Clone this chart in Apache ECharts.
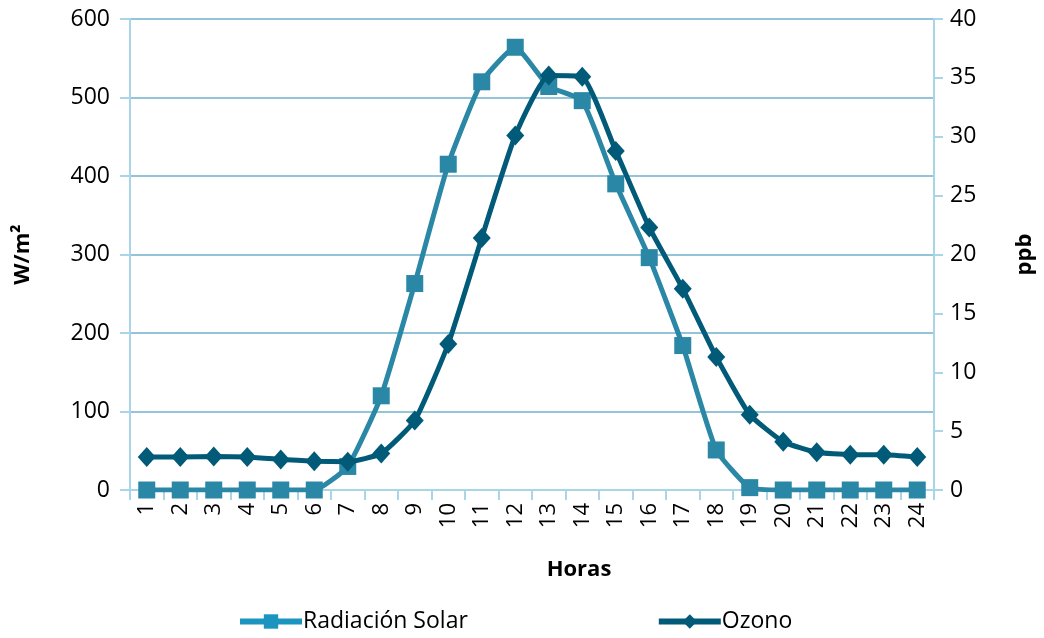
<!DOCTYPE html>
<html>
<head>
<meta charset="utf-8">
<script src="https://cdn.jsdelivr.net/npm/echarts@6/dist/echarts.min.js"></script>
<style>
  html, body { margin: 0; padding: 0; background: #ffffff; }
  #chart { width: 1044px; height: 638px; }
</style>
</head>
<body>
<div id="chart"></div>
<script>
// Hourly averages: solar radiation (W/m²) and ozone (ppb)
const horas = ['1','2','3','4','5','6','7','8','9','10','11','12','13','14','15','16','17','18','19','20','21','22','23','24'];
const radiacionSolar = [0, 0, 0, 0, 0, 0, 30, 120, 263, 415, 520, 564, 514, 496, 390, 296, 184, 51, 3, 0, 0, 0, 0, 0];
const ozono = [2.8, 2.8, 2.85, 2.8, 2.6, 2.45, 2.4, 3.1, 5.9, 12.4, 21.4, 30.1, 35.2, 35.1, 28.8, 22.3, 17.1, 11.3, 6.4, 4.1, 3.2, 3.0, 3.0, 2.8];
const ticksRad = { min: 0, max: 600, interval: 100 };
const ticksPpb = { min: 0, max: 40, interval: 5 };

const FONT = '"Open Sans", "Noto Sans", sans-serif';
const AXIS_BLUE = '#a9d5e9';
const GRID_BLUE = '#6fb0cb';
const C_RAD = '#2a87a6';
const C_RAD_KEY = '#1b95c0';
const C_OZ = '#005a78';

const chart = echarts.init(document.getElementById('chart'), null, { renderer: 'canvas' });

chart.setOption({
  animation: false,
  textStyle: { fontFamily: FONT, color: '#000' },
  grid: { left: 130, right: 108, top: 19, bottom: 148, containLabel: false },
  legend: {
    bottom: 0,
    left: 232,
    itemWidth: 62,
    itemHeight: 18,
    itemGap: 188,
    lineStyle: { width: 6 },
    textStyle: { fontFamily: FONT, fontSize: 23, color: '#000', padding: [0, 0, 0, -4] },
    data: [
      { name: 'Radiación Solar', itemStyle: { color: C_RAD_KEY }, lineStyle: { color: C_RAD_KEY, width: 6 } },
      { name: 'Ozono' }
    ]
  },
  xAxis: {
    type: 'category',
    data: horas,
    boundaryGap: true,
    name: 'Horas',
    nameLocation: 'middle',
    nameGap: 69,
    nameTextStyle: { fontFamily: FONT, fontSize: 22, fontWeight: 'bold', color: '#000', padding: [0, 0, 0, 94] },
    axisLine: { show: true, lineStyle: { color: AXIS_BLUE, width: 2 } },
    axisTick: { show: true, alignWithLabel: false, length: 10, lineStyle: { color: AXIS_BLUE, width: 2 } },
    axisLabel: { rotate: 90, fontSize: 22, color: '#000', margin: 13, fontFamily: FONT },
    splitLine: { show: false }
  },
  yAxis: [
    {
      type: 'value',
      position: 'left',
      min: ticksRad.min, max: ticksRad.max, interval: ticksRad.interval,
      name: 'W/m²',
      nameLocation: 'middle',
      nameGap: 96,
      nameRotate: 90,
      nameTextStyle: { fontFamily: FONT, fontSize: 22, fontWeight: 'bold', color: '#000' },
      axisLine: { show: true, lineStyle: { color: AXIS_BLUE, width: 2 } },
      axisTick: { show: true, length: 10, lineStyle: { color: AXIS_BLUE, width: 2 } },
      axisLabel: { fontSize: 23, color: '#000', margin: 20, fontFamily: FONT },
      splitLine: { show: true, lineStyle: { color: GRID_BLUE, width: 1.5 } }
    },
    {
      type: 'value',
      position: 'right',
      min: ticksPpb.min, max: ticksPpb.max, interval: ticksPpb.interval,
      name: 'ppb',
      nameLocation: 'middle',
      nameGap: 80,
      nameRotate: 90,
      nameTextStyle: { fontFamily: FONT, fontSize: 22, fontWeight: 'bold', color: '#000' },
      axisLine: { show: true, lineStyle: { color: AXIS_BLUE, width: 2 } },
      axisTick: { show: true, length: 9, lineStyle: { color: AXIS_BLUE, width: 2 } },
      axisLabel: { fontSize: 23, color: '#000', margin: 16, fontFamily: FONT },
      splitLine: { show: false }
    }
  ],
  series: [
    {
      name: 'Radiación Solar',
      type: 'line',
      yAxisIndex: 0,
      data: radiacionSolar,
      smooth: 0.15,
      symbol: 'rect',
      symbolSize: 17,
      lineStyle: { color: C_RAD, width: 5 },
      itemStyle: { color: C_RAD },
      z: 2
    },
    {
      name: 'Ozono',
      type: 'line',
      yAxisIndex: 1,
      data: ozono,
      smooth: 0.15,
      symbol: 'diamond',
      symbolSize: [18, 20],
      lineStyle: { color: C_OZ, width: 5 },
      itemStyle: { color: C_OZ },
      z: 3
    }
  ]
});
</script>
</body>
</html>
